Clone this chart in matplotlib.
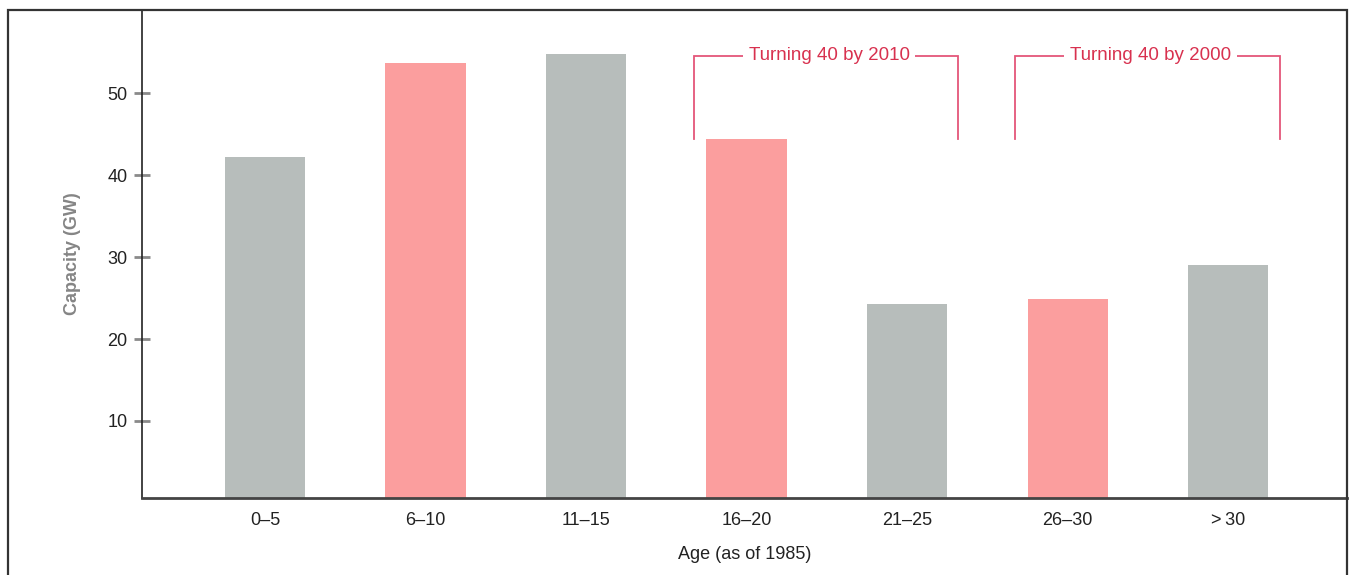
import numpy as np
from matplotlib import pyplot as plt
from matplotlib.patches import Rectangle

# data
age_groups = ['0\u20135', '6\u201310', '11\u201315', '16\u201320', '21\u201325', '26\u201330', '>\u200930']
capacity_gw = [42.2, 53.7, 54.8, 44.4, 24.3, 24.9, 29.1]
turning_40 = [False, True, False, True, False, True, False]
y_ticks = [10, 20, 30, 40, 50]
brackets = [('Turning 40 by 2010', 3, 4), ('Turning 40 by 2000', 5, 6)]

GREY = '#b7bdbb'
PINK = '#fb9e9e'
RED = '#d8314f'
LINE_RED = '#e4567a'

plt.rcParams['font.family'] = ['Liberation Sans', 'DejaVu Sans']

W, H = 1357, 575
fig = plt.figure(figsize=(W / 100, H / 100), dpi=100)
ax = fig.add_axes([142 / W, 1 - 498 / H, (1347 - 142) / W, (498 - 10) / H])

x = np.arange(len(age_groups))
colors = [PINK if t else GREY for t in turning_40]
ax.bar(x, capacity_gw, width=0.5, color=colors, zorder=2)

ax.set_xlim(-0.766, 6.74)
ax.set_ylim(0.58, 60.2)
ax.set_xticks(x)
ax.set_xticklabels(age_groups, fontsize=13, color='#222222')
ax.set_yticks(y_ticks)
ax.set_yticklabels([str(v) for v in y_ticks], fontsize=13, color='#222222')
ax.tick_params(axis='x', length=0, pad=10)
ax.tick_params(axis='y', direction='inout', length=11, width=2, color='#8a8a8a', pad=5)

for side in ['top', 'right']:
    ax.spines[side].set_visible(False)
ax.spines['left'].set_color('#222222')
ax.spines['left'].set_linewidth(1.2)
ax.spines['bottom'].set_color('#444444')
ax.spines['bottom'].set_linewidth(2)

ax.set_xlabel('Age (as of 1985)', fontsize=13, color='#222222', labelpad=12)
ax.set_ylabel('Capacity (GW)', fontsize=13, fontweight='bold', color='#858585', labelpad=19)

# brackets over the groups that turn 40
top, bottom = 54.6, 44.4
for label, i0, i1 in brackets:
    xl, xr = i0 - 0.33, i1 + 0.32
    ax.plot([xl, xl, xr, xr], [bottom, top, top, bottom], color=LINE_RED, lw=1.3,
            solid_joinstyle='miter', zorder=3)
    ax.text((xl + xr) / 2 + 0.02, top, label, fontsize=13.5, color=RED, ha='center', va='center',
            zorder=4, bbox=dict(facecolor='white', edgecolor='none', pad=4))

# outer frame
fig.patches.append(Rectangle((8 / W, -0.05), (1347 - 8) / W, 1.05 - 10 / H,
                             transform=fig.transFigure, fill=False,
                             edgecolor='#333333', lw=1.6))

fig.savefig('out.png', dpi=100)
